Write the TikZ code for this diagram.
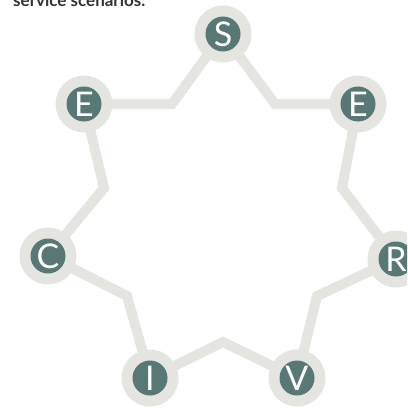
\documentclass[tikz,border=0pt]{standalone}
\usepackage{fontspec}
\setmainfont{Lato}
\usetikzlibrary{backgrounds}
\definecolor{ringgray}{RGB}{228,228,224}
\definecolor{tealc}{RGB}{88,120,118}
\definecolor{textgray}{RGB}{50,50,50}
\tikzset{
  ring/.style={circle,fill=ringgray,minimum size=57pt,inner sep=0pt},
  letter/.style={circle,fill=tealc,minimum size=35pt,inner sep=0pt,text=white,
    font=\fontsize{34}{34}\selectfont,text height=24.5pt,text depth=0pt},
  link/.style={draw=ringgray,line width=10pt,line join=miter}
}
\begin{document}
\begin{tikzpicture}[x=1pt,y=-1pt]
\useasboundingbox (0,0) rectangle (407,412);
\clip (0,0) rectangle (407,412);
\node[anchor=base west,text=textgray,font=\bfseries\fontsize{17}{17}\selectfont,inner sep=0pt] (cap) at (13,6.5) {service scenarios.};
% ring nodes
\node[ring] (rs) at (223,34) {};
\node[ring] (rel) at (84,104) {};
\node[ring] (rc) at (48,256) {};
\node[ring] (ri) at (150,378) {};
\node[ring] (rv) at (297,378) {};
\node[ring] (rr) at (396,259) {};
\node[ring] (rer) at (358,104) {};
% letter nodes
\node[letter] (s) at (rs) {S};
\node[letter] (el) at (rel) {E};
\node[letter] (c) at (rc) {C};
\node[letter] (i) at (ri) {I};
\node[letter] (v) at (rv) {V};
\node[letter] (r) at (rr) {R};
\node[letter] (er) at (rer) {E};
% bend points
\coordinate (a) at (172,104);
\coordinate (b) at (275,104);
\coordinate (cc) at (104,188);
\coordinate (d) at (342,188);
\coordinate (e) at (127,296);
\coordinate (f) at (317,296);
\coordinate (g) at (223,342);
\begin{scope}[on background layer]
\draw[link] (rs.center) -- (a) -- (rel.center);
\draw[link] (rel.center) -- (cc) -- (rc.center);
\draw[link] (rc.center) -- (e) -- (ri.center);
\draw[link] (ri.center) -- (g) -- (rv.center);
\draw[link] (rv.center) -- (f) -- (rr.center);
\draw[link] (rr.center) -- (d) -- (rer.center);
\draw[link] (rer.center) -- (b) -- (rs.center);
\end{scope}
\end{tikzpicture}
\end{document}
